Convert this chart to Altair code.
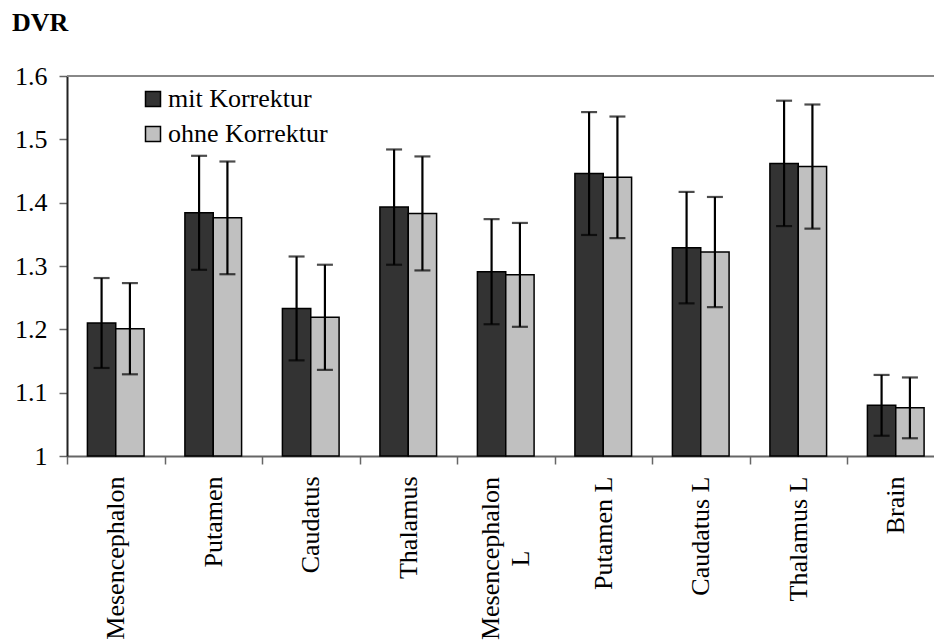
import altair as alt
import pandas as pd

# Regions on the x axis
regions = [
    "Mesencephalon", "Putamen", "Caudatus", "Thalamus", "Mesencephalon L",
    "Putamen L", "Caudatus L", "Thalamus L", "Brain",
]
series = ["mit Korrektur", "ohne Korrektur"]

# Mean DVR and standard deviation per region
mit_values = [1.210, 1.384, 1.233, 1.393, 1.291, 1.446, 1.329, 1.462, 1.080]
mit_errors = [0.071, 0.090, 0.082, 0.091, 0.083, 0.097, 0.088, 0.099, 0.048]
ohne_values = [1.201, 1.376, 1.219, 1.383, 1.286, 1.440, 1.322, 1.457, 1.076]
ohne_errors = [0.072, 0.089, 0.083, 0.090, 0.082, 0.096, 0.087, 0.098, 0.048]

y_ticks = [1.0, 1.1, 1.2, 1.3, 1.4, 1.5, 1.6]

rows = []
for name, vals, errs in [(series[0], mit_values, mit_errors),
                         (series[1], ohne_values, ohne_errors)]:
    for region, v, e in zip(regions, vals, errs):
        rows.append({"region": region, "series": name, "value": v,
                     "lo": v - e, "hi": v + e})
df = pd.DataFrame(rows)

FONT = "Liberation Serif"
PLOT_W = 867
PLOT_H = 380

# The two-line label is centred line by line; its anchor sits half a line
# length further from the axis so that its top edge lines up with the others,
# and the block is shifted half a line back so it stays centred on its band.
two_line = "datum.value == 'Mesencephalon L'"

x_enc = alt.X(
    "region:N",
    sort=regions,
    scale=alt.Scale(range=[0, 877.5], paddingInner=0, paddingOuter=0),
    axis=alt.Axis(
        title=None,
        labelAngle=270,
        labelAlign=alt.condition(two_line, alt.value("center"), alt.value("right")),
        labelPadding=alt.condition(two_line, alt.value(94), alt.value(12)),
        labelOffset=alt.condition(two_line, alt.value(-15), alt.value(0)),
        labelBaseline="middle",
        labelFont=FONT,
        labelFontSize=26,
        labelColor="black",
        labelLineHeight=30,
        labelExpr=("datum.label == 'Mesencephalon L' ? "
                   "['Mesencephalon', 'L'] : datum.label"),
        tickBand="extent",
        tickSize=8,
        tickColor="#666666",
        tickWidth=1.5,
        domainColor="#666666",
        domainWidth=2,
    ),
)
xoff_enc = alt.XOffset(
    "series:N", sort=series,
    scale=alt.Scale(paddingInner=0, paddingOuter=0.72),
)
y_scale = alt.Scale(domain=[1.0, 1.6], zero=False, nice=False)

bars = alt.Chart(df).mark_bar(stroke="black", strokeWidth=1.5).encode(
    x=x_enc,
    xOffset=xoff_enc,
    y=alt.Y(
        "value:Q",
        scale=y_scale,
        axis=alt.Axis(
            title=None,
            values=y_ticks,
            grid=False,
            labelExpr="datum.value == 1 ? '1' : format(datum.value, '.1f')",
            labelFont=FONT,
            labelFontSize=26,
            labelColor="black",
            labelPadding=12,
            tickSize=8,
            tickColor="#666666",
            tickWidth=1.5,
            domainColor="#222222",
            domainWidth=2,
        ),
    ),
    y2=alt.datum(1.0),
    color=alt.Color(
        "series:N",
        sort=series,
        scale=alt.Scale(domain=series, range=["#333333", "#c0c0c0"]),
        legend=alt.Legend(
            title=None,
            orient="none",
            legendX=73,
            legendY=10,
            symbolType="square",
            symbolSize=225,
            symbolStrokeColor="black",
            symbolStrokeWidth=1.5,
            symbolOpacity=1,
            labelFont=FONT,
            labelFontSize=26,
            labelColor="black",
            labelOffset=2,
            rowPadding=9,
        ),
    ),
)

err_lines = alt.Chart(df).mark_rule(color="black", strokeWidth=2.2).encode(
    x=alt.X("region:N", sort=regions),
    xOffset=alt.XOffset("series:N", sort=series),
    y=alt.Y("lo:Q", scale=y_scale),
    y2="hi:Q",
)

cap_lo = alt.Chart(df).mark_tick(color="black", size=16, thickness=2.2).encode(
    x=alt.X("region:N", sort=regions),
    xOffset=alt.XOffset("series:N", sort=series),
    y=alt.Y("lo:Q", scale=y_scale),
)
cap_hi = alt.Chart(df).mark_tick(color="black", size=16, thickness=2.2).encode(
    x=alt.X("region:N", sort=regions),
    xOffset=alt.XOffset("series:N", sort=series),
    y=alt.Y("hi:Q", scale=y_scale),
)

# Gray frame line along the top of the plot area
top_line = alt.Chart(df).mark_rule(color="#888888", strokeWidth=2).encode(
    y=alt.datum(1.6),
    x=alt.value(0),
    x2=alt.value(900),
)

chart = (
    alt.layer(top_line, bars, err_lines, cap_lo, cap_hi)
    .properties(
        width=PLOT_W,
        height=PLOT_H,
        autosize=alt.AutoSizeParams(type="none"),
        padding={"left": 67, "top": 76, "right": 0, "bottom": 186},
        title=alt.TitleParams(
            "DVR",
            anchor="start",
            frame="group",
            dx=-55,
            offset=27,
            font=FONT,
            fontSize=26,
            fontWeight="bold",
            color="black",
        ),
        background="white",
    )
    .configure_view(stroke=None)
)

chart.save("out.html", embed_options={"renderer": "svg", "actions": False})
